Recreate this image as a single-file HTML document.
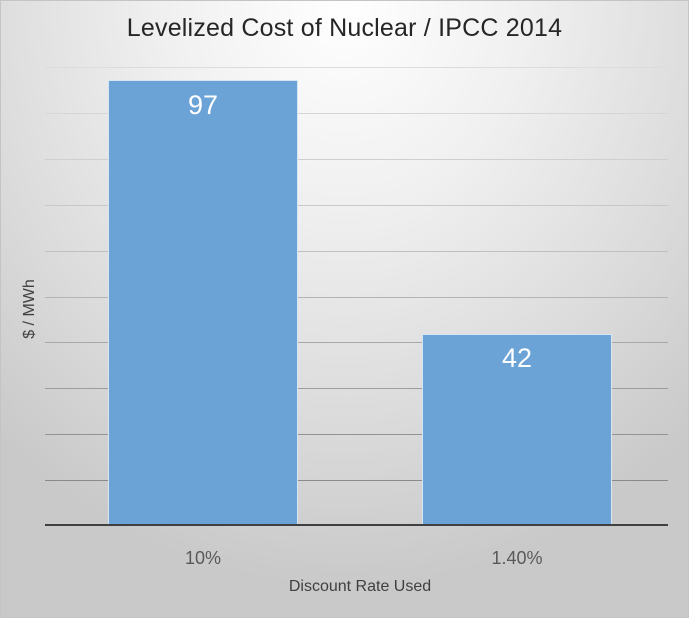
<!DOCTYPE html>
<html><head><style>
html,body{margin:0;padding:0}
body{width:689px;height:618px;overflow:hidden;font-family:"Liberation Sans","DejaVu Sans",sans-serif;position:relative}
#c{position:absolute;left:0;top:0;width:687px;height:616px;border:1px solid #c4c4c4;
background:radial-gradient(ellipse 75% 95% at 50% 0%,#ffffff 0%,#f0f0f0 35%,#dcdcdc 70%,#c9c9c9 100%);}
.g{position:absolute;left:45px;width:623px;height:1px}
.bar{position:absolute;background:#6ca3d7;border:1px solid #d8e6f4;border-bottom:none;box-sizing:border-box}
.t{position:absolute;text-align:center;white-space:nowrap}
</style></head><body><div id="c"></div>
<div class="t" style="left:0;width:689px;top:14px;font-size:25px;color:#262626;letter-spacing:0.2px">Levelized Cost of Nuclear / IPCC 2014</div>
<div class="g" style="top:67px;background:#dcdcdc"></div>
<div class="g" style="top:113px;background:#d6d6d6"></div>
<div class="g" style="top:159px;background:#cfcfcf"></div>
<div class="g" style="top:205px;background:#c8c8c8"></div>
<div class="g" style="top:251px;background:#bfbfbf"></div>
<div class="g" style="top:297px;background:#b4b4b4"></div>
<div class="g" style="top:342px;background:#a8a8a8"></div>
<div class="g" style="top:388px;background:#9c9c9c"></div>
<div class="g" style="top:434px;background:#939393"></div>
<div class="g" style="top:480px;background:#8a8a8a"></div>
<div class="bar" style="left:108px;top:80px;width:190px;height:445px"></div>
<div class="bar" style="left:422px;top:334px;width:190px;height:191px"></div>
<div class="g" style="top:524px;height:2px;background:#404040"></div>
<div class="t" style="left:108px;width:190px;top:90px;font-size:27px;color:#fff">97</div>
<div class="t" style="left:422px;width:190px;top:343px;font-size:27px;color:#fff">42</div>
<div class="t" style="left:108px;width:190px;top:548px;font-size:18px;color:#595959">10%</div>
<div class="t" style="left:422px;width:190px;top:548px;font-size:18px;color:#595959">1.40%</div>
<div class="t" style="left:0;width:720px;top:578px;font-size:16px;color:#404040">Discount Rate Used</div>
<div class="t" style="left:-10px;top:300px;width:80px;font-size:16px;color:#404040;transform:rotate(-90deg);transform-origin:50% 50%">$ / MWh</div>
</body></html>
